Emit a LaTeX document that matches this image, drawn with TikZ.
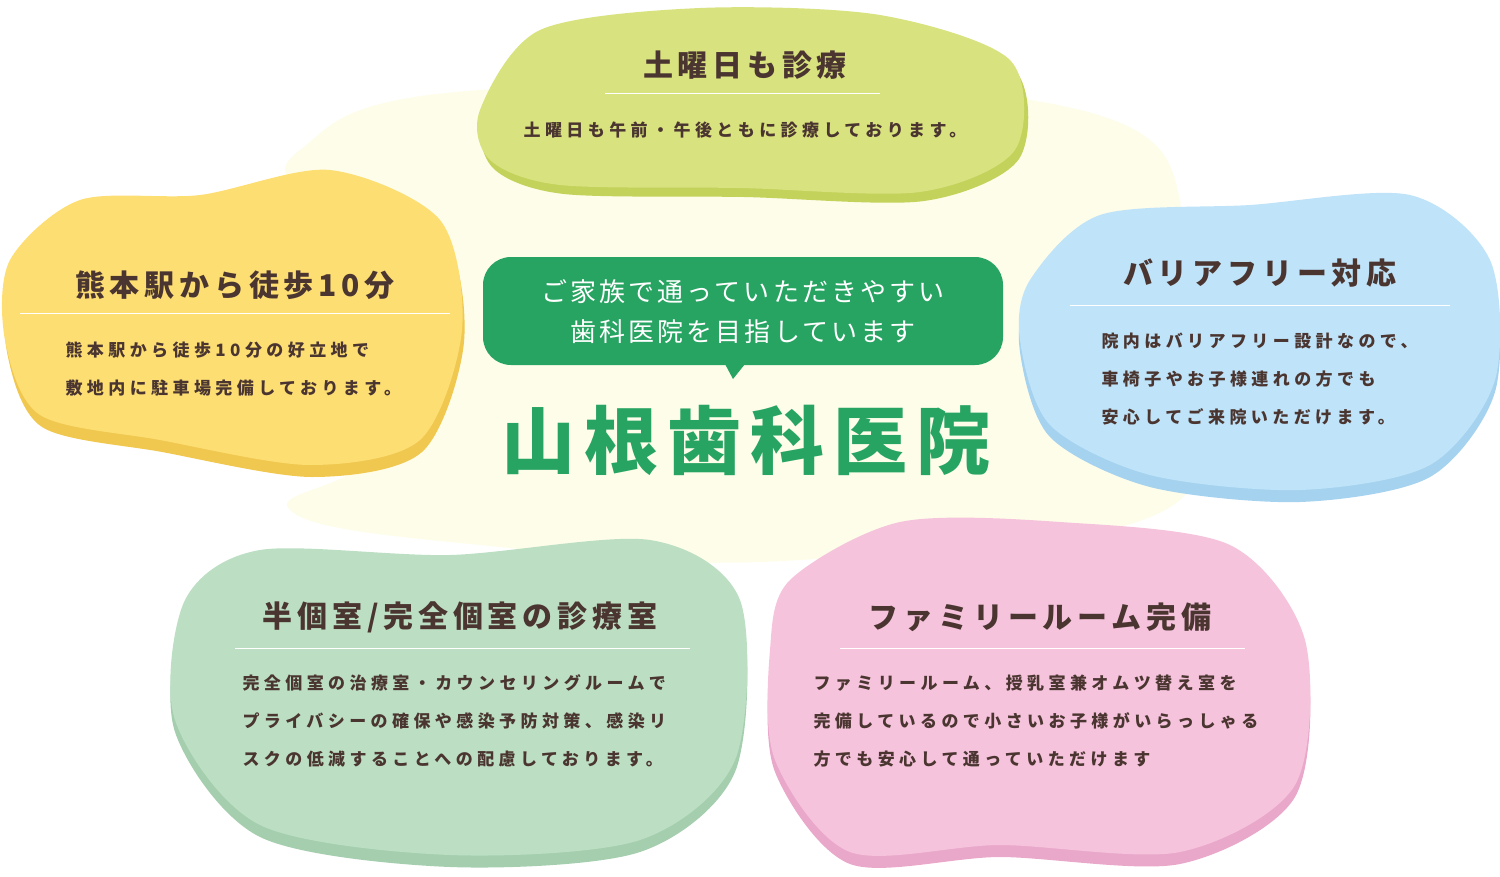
\documentclass[tikz,border=0pt]{standalone}
\usepackage{fontspec}
\setmainfont{Noto Sans CJK JP}[LetterSpace=12]
\newfontfamily\bodyf{Noto Sans CJK JP}[LetterSpace=26]
\newfontfamily\ttlf{Noto Sans CJK JP}[LetterSpace=16]
\newfontfamily\headf{Noto Sans CJK JP}[LetterSpace=12]
\definecolor{txt}{HTML}{4A3530}
\definecolor{bgy}{HTML}{FDFDEA}
\definecolor{g1}{HTML}{D8E27E}\definecolor{g1s}{HTML}{C3D25A}
\definecolor{y1}{HTML}{FDDE73}\definecolor{y1s}{HTML}{F0C850}
\definecolor{b1}{HTML}{BFE3F8}\definecolor{b1s}{HTML}{A5D2EF}
\definecolor{m1}{HTML}{BCDFC3}\definecolor{m1s}{HTML}{A5CEAF}
\definecolor{p1}{HTML}{F6C3DC}\definecolor{p1s}{HTML}{E9A8CA}
\definecolor{cg}{HTML}{27A462}
\tikzset{
 ttl/.style={text=txt,font=\ttlf\bfseries\fontsize{30}{34}\selectfont},
 body/.style={text=txt,font=\bodyf\bfseries\fontsize{17}{38}\selectfont,align=left,anchor=west},
 rule/.style={draw=white,line width=1pt}
}
\begin{document}
\begin{tikzpicture}[x=1pt,y=-1pt]
\useasboundingbox (0,0) rectangle (1500,876);
\fill[bgy] plot[smooth cycle,tension=0.7] coordinates{(300,150)(480,90)(1030,100)(1180,200)(1080,320)(1180,500)(800,560)(480,545)(290,510)(380,450)(450,300)(320,210)};
\def\gA{(480,110)(540,30)(700,8)(880,15)(1010,60)(1015,150)(920,192)(740,188)(560,185)(490,160)}
\fill[g1s] [shift={(4,9)}] plot[smooth cycle] coordinates{\gA};
\fill[g1] plot[smooth cycle] coordinates{\gA};
\def\yA{(10,260)(80,200)(200,195)(330,170)(440,220)(462,330)(420,440)(310,465)(160,440)(40,415)(5,340)}
\fill[y1s] [shift={(2,12)}] plot[smooth cycle] coordinates{\yA};
\fill[y1] plot[smooth cycle] coordinates{\yA};
\def\bA{(1030,280)(1100,215)(1250,205)(1410,195)(1490,260)(1495,380)(1430,465)(1300,490)(1150,475)(1050,425)(1020,340)}
\fill[b1s] [shift={(0,12)}] plot[smooth cycle] coordinates{\bA};
\fill[b1] plot[smooth cycle] coordinates{\bA};
\def\mA{(185,600)(260,550)(450,555)(650,540)(740,600)(735,760)(640,840)(450,855)(260,825)(175,720)}
\fill[m1s] [shift={(0,12)}] plot[smooth cycle] coordinates{\mA};
\fill[m1] plot[smooth cycle] coordinates{\mA};
\def\pA{(790,580)(900,522)(1060,522)(1230,545)(1305,640)(1295,785)(1180,852)(1000,845)(850,852)(775,760)(770,650)}
\fill[p1s] [shift={(0,12)}] plot[smooth cycle] coordinates{\pA};
\fill[p1] plot[smooth cycle] coordinates{\pA};
\node[ttl] (t1) at (745,65) {土曜日も診療};
\draw[rule] (605,93) -- (880,93);
\node[body,anchor=center] (b1) at (745,130) {土曜日も午前・午後ともに診療しております。};
\node[ttl] (t2) at (235,285) {熊本駅から徒歩10分};
\draw[rule] (20,313) -- (450,313);
\node[body] (b2) at (62,369) {熊本駅から徒歩10分の好立地で\\敷地内に駐車場完備しております。};
\node[ttl] (t3) at (1260,273) {バリアフリー対応};
\draw[rule] (1070,305) -- (1450,305);
\node[body] (b3) at (1098,379) {院内はバリアフリー設計なので、\\車椅子やお子様連れの方でも\\安心してご来院いただけます。};
\node[ttl] (t4) at (460,617) {半個室/完全個室の診療室};
\draw[rule] (235,648) -- (690,648);
\node[body] (b4) at (239,721) {完全個室の治療室・カウンセリングルームで\\プライバシーの確保や感染予防対策、感染リ\\スクの低減することへの配慮しております。};
\node[ttl] (t5) at (1040,617) {ファミリールーム完備};
\draw[rule] (840,648) -- (1245,648);
\node[body] (b5) at (810,721) {ファミリールーム、授乳室兼オムツ替え室を\\完備しているので小さいお子様がいらっしゃる\\方でも安心して通っていただけます};
\fill[cg,rounded corners=28pt] (483,257) rectangle (1003,365);
\fill[cg] (725,364) -- (745,364) -- (733,379) -- cycle;
\node[text=white,font=\fontsize{26}{40}\selectfont,align=center] (c1) at (743,312) {ご家族で通っていただきやすい\\歯科医院を目指しています};
\node[text=cg,font=\headf\bfseries\fontsize{74}{80}\selectfont] (c2) at (746,440) {山根歯科医院};
\end{tikzpicture}
\end{document}
